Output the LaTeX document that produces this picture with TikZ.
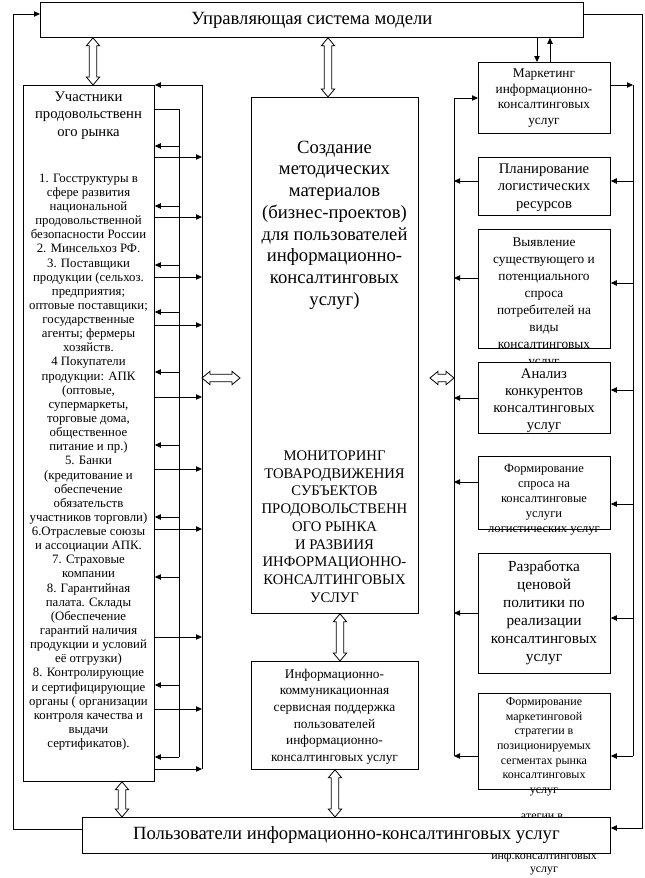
\documentclass[tikz,border=0pt]{standalone}
\usepackage{fontspec}
\setmainfont{Liberation Serif}
\usetikzlibrary{arrows.meta,calc}

\newcommand\fsz[2]{\fontsize{#1}{#2}\selectfont}

\begin{document}
\begin{tikzpicture}[x=0.75pt, y=-0.75pt, line width=0.6pt,
    box/.style={draw, fill=white, inner sep=0pt},
    txt/.style={align=center, inner sep=0pt},
    tip/.style={-{Triangle[length=4.5pt,width=4pt]}}]
  \useasboundingbox (0,0) rectangle (645,878);
  \def\blk#1#2#3#4#5{\node[box, anchor=north west,
      minimum width={(#4-#2)*0.75pt}, minimum height={(#5-#3)*0.75pt}] (#1) at (#2,#3) {};}
  % hollow two-way arrows: vertical (top, bottom) and horizontal (left, right)
  \def\vdbl#1#2{\draw[fill=white] let \p1=(#1), \p2=(#2) in
      (\x1,\y1) -- (\x1+5pt,\y1-6pt) -- (\x1+2.8pt,\y1-6pt) -- (\x1+2.8pt,\y2+6pt)
      -- (\x1+5pt,\y2+6pt) -- (\x1,\y2) -- (\x1-5pt,\y2+6pt) -- (\x1-2.8pt,\y2+6pt)
      -- (\x1-2.8pt,\y1-6pt) -- (\x1-5pt,\y1-6pt) -- cycle;}
  \def\hdbl#1#2{\draw[fill=white] let \p1=(#1), \p2=(#2) in
      (\x1,\y1) -- (\x1+6pt,\y1+5pt) -- (\x1+6pt,\y1+2.8pt) -- (\x2-6pt,\y1+2.8pt)
      -- (\x2-6pt,\y1+5pt) -- (\x2,\y1) -- (\x2-6pt,\y1-5pt) -- (\x2-6pt,\y1-2.8pt)
      -- (\x1+6pt,\y1-2.8pt) -- (\x1+6pt,\y1-5pt) -- cycle;}

  % bus lines, loop corners, free ends
  \coordinate (lin)  at (179,0);
  \coordinate (lout) at (202,0);
  \coordinate (rin)  at (454,0);
  \coordinate (rout) at (633,0);
  \coordinate (UL) at (13,14);
  \coordinate (LL) at (13,829);
  \coordinate (UR) at (642,14);
  \coordinate (LR) at (642,828);
  \coordinate (hl) at (240,378);
  \coordinate (hr) at (430,378);

  % top and left column
  \blk{ctrl}{40}{2}{583}{37}
  \node[txt, font=\fsz{14}{16}] (ctrltxt) at (ctrl.center) {Управляющая система модели};

  \blk{memb}{23}{85}{154}{781}
  \node[txt, font=\fsz{11}{13.1}] (membhead) at (88.5,115.5)
    {Участники\\продовольственн\\ого рынка};
  \node[txt, font=\fsz{9.6}{10.6}] (membtxt) at (88.5,462)
    {1. Госструктуры в\\сфере развития\\национальной\\продовольственной\\безопасности России\\
     2. Минсельхоз РФ.\\3. Поставщики\\продукции (сельхоз.\\предприятия;\\оптовые поставщики;\\
     государственные\\агенты; фермеры\\хозяйств.\\4 Покупатели\\продукции: АПК\\(оптовые,\\
     супермаркеты,\\торговые дома,\\общественное\\питание и пр.)\\5. Банки\\(кредитование и\\
     обеспечение\\обязательств\\участников торговли)\\6.Отраслевые союзы\\и ассоциации АПК.\\
     7. Страховые\\компании\\8. Гарантийная\\палата. Склады\\(Обеспечение\\гарантий наличия\\
     продукции и условий\\её отгрузки)\\8. Контролирующие\\и сертифицирующие\\органы ( организации\\
     контроля качества и\\выдачи\\сертификатов).};

  % middle column
  \blk{meth}{251}{97}{418}{613}
  \node[txt, font=\fsz{14}{16.3}] (methtxt) at (334.5,225)
    {Создание\\методических\\материалов\\(бизнес-проектов)\\для пользователей\\информационно-\\консалтинговых\\услуг)};
  \node[txt, font=\fsz{11}{13.3}] (montxt) at (334.5,526.5)
    {МОНИТОРИНГ\\ТОВАРОДВИЖЕНИЯ\\СУБЪЕКТОВ\\ПРОДОВОЛЬСТВЕНН\\ОГО РЫНКА\\И РАЗВИИЯ\\ИНФОРМАЦИОННО-\\КОНСАЛТИНГОВЫХ\\УСЛУГ};

  \blk{serv}{251}{661}{418}{769}
  \node[txt, font=\fsz{10}{12.5}] (servtxt) at (334.5,716.5)
    {Информационно-\\коммуникационная\\сервисная поддержка\\пользователей\\информационно-\\консалтинговых услуг};

  % right column
  \blk{mkt}{478}{62}{610}{133}
  \node[txt, font=\fsz{10}{11.6}] (mkttxt) at (544,98)
    {Маркетинг\\информационно-\\консалтинговых\\услуг};
  \blk{plan}{478}{157}{610}{215}
  \node[txt, font=\fsz{11}{13.1}] (plantxt) at (544,187.5)
    {Планирование\\логистических\\ресурсов};
  \blk{dem}{478}{229}{610}{348}
  \node[txt, font=\fsz{10}{12.8}] (demtxt) at (544,303)
    {Выявление\\существующего и\\потенциального\\спроса\\потребителей на\\виды\\консалтинговых\\услуг};
  \blk{comp}{478}{362}{610}{433}
  \node[txt, font=\fsz{11}{12.8}] (comptxt) at (544,400.5)
    {Анализ\\конкурентов\\консалтинговых\\услуг};
  \blk{need}{478}{456}{610}{529}
  \node[txt, font=\fsz{9.4}{11.3}] (needtxt) at (544,499.5)
    {Формирование\\спроса на\\консалтинговые\\услуги\\логистических услуг};
  \blk{price}{478}{553}{610}{673}
  \node[txt, font=\fsz{11.5}{13.4}] (pricetxt) at (544,612.5)
    {Разработка\\ценовой\\политики по\\реализации\\консалтинговых\\услуг};
  \blk{strat}{478}{693}{610}{789}
  \node[txt, font=\fsz{9}{11}] (strattxt) at (544,747)
    {Формирование\\маркетинговой\\стратегии в\\позиционируемых\\сегментах рынка\\консалтинговых\\услуг};

  % leftovers of a hidden note behind the bottom box
  \node[txt, font=\fsz{9}{10}] (resta) at (542,817) {атегии в};
  \node[txt, font=\fsz{8.9}{10.1}] (restb) at (544,863) {инф.консалтинговых\\услуг};

  \blk{users}{82}{817}{610}{853}
  \node[txt, font=\fsz{14}{16}] (userstxt) at (users.center)
    {Пользователи информационно-консалтинговых услуг};

  % outer feedback loops
  \draw[tip] (users.west |- LL) -- (LL) -- (UL) -- (ctrl.west |- UL);
  \draw[tip] (ctrl.east |- UR) -- (UR) -- (LR) -- (users.east |- LR);

  \draw[tip] (ctrl.south -| 537,0) -- (mkt.north -| 537,0);
  \draw[tip] (mkt.north -| 550,0) -- (ctrl.south -| 550,0);

  % left buses
  \draw (memb.east |- 0,109) -- (lin |- 0,109) -- (lin |- 0,757);
  \draw[tip] (lout |- 0,769) -- (lout |- 0,85) -- (memb.east |- 0,85);
  \foreach \y in {146,206,265,312,372,445,517,577,685,757}
    \draw[tip] (lin |- 0,\y) -- (memb.east |- 0,\y);
  \foreach \y in {157,217,277,325,397,469,529,637,709,769}
    \draw[tip] (memb.east |- 0,\y) -- (lout |- 0,\y);

  % right buses
  \draw[tip] (rin |- 0,756) -- (rin |- 0,98) -- (mkt.west |- 0,98);
  \foreach \b/\y in {plan/181,dem/278,comp/398,need/482,price/613,strat/756}
    \draw[tip] (\b.west |- 0,\y) -- (rin |- 0,\y);
  \draw[tip] (mkt.east |- 0,85) -- (rout |- 0,85);
  \draw (rout |- 0,85) -- (rout |- 0,756);
  \foreach \b/\y in {plan/181,dem/283,comp/390,need/504,price/618,strat/756}
    \draw[tip] (rout |- 0,\y) -- (\b.east |- 0,\y);

  % two-way links
  \vdbl{ctrl.south -| 93,0}{memb.north -| 93,0}
  \vdbl{ctrl.south -| 328,0}{meth.north -| 328,0}
  \vdbl{meth.south -| 340,0}{serv.north -| 340,0}
  \vdbl{serv.south -| 335,0}{users.north -| 335,0}
  \vdbl{memb.south -| 122,0}{users.north -| 122,0}
  \hdbl{lout |- hl}{hl}
  \hdbl{hr}{rin |- hr}
\end{tikzpicture}
\end{document}
